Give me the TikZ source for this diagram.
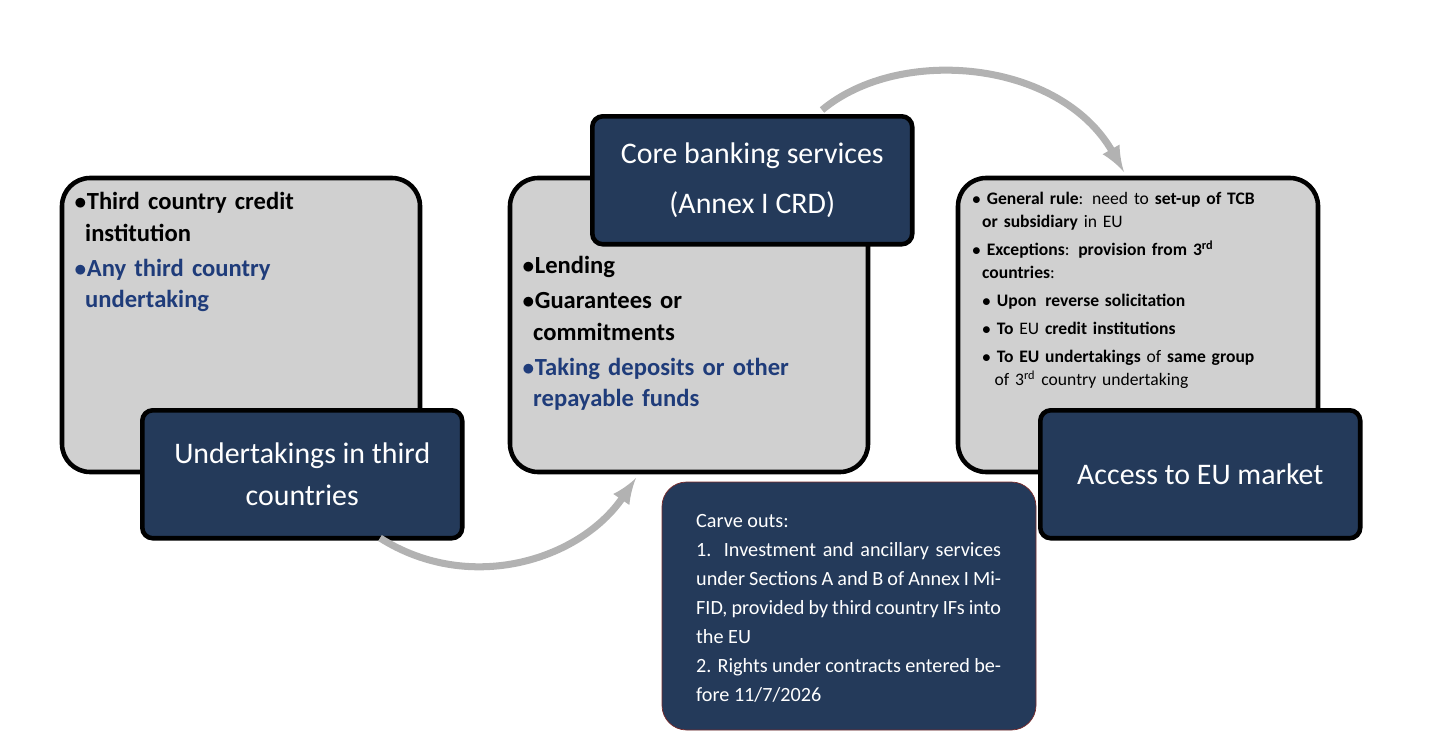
\documentclass[tikz,border=0pt]{standalone}
\usepackage{fontspec}
\setmainfont{Carlito}
\usetikzlibrary{positioning}
\definecolor{navy}{HTML}{243A5A}
\definecolor{boxgray}{HTML}{D0D0D0}
\definecolor{textblue}{HTML}{1F3C7A}
\definecolor{edgered}{HTML}{7A2A2A}
\begin{document}
\begin{tikzpicture}[x=0.02cm,y=-0.02cm,
	outer/.style={draw=black, line width=2.6pt, fill=boxgray, rounded corners=16pt},
	title/.style={draw=black, line width=2.6pt, fill=navy, rounded corners=6pt, text=white, align=center, font=\fontsize{17}{24}\selectfont},
	item/.style={anchor=north west, align=left, text width=6.4cm, font=\bfseries\fontsize{14}{18}\selectfont},
	flow/.style={draw=black!30, line width=4pt, -latex}
	]
	\useasboundingbox (0,0) rectangle (1429,750);

		% boxes
		\draw [outer] (62,178) rectangle (420,472);
		\draw [outer] (510,178) rectangle (868,472);
		\draw [outer] (958,178) rectangle (1318,472);

		\node (third) [title, minimum width=6.4cm, minimum height=2.56cm, anchor=north west] at (140,408) {Undertakings in third\\countries};
		\node (core) [title, minimum width=6.4cm, minimum height=2.56cm, anchor=north west] at (590,114) {Core banking services\\[4pt](Annex I CRD)};
		\node (access) [title, minimum width=6.4cm, minimum height=2.56cm, anchor=north west] at (1038,408) {Access to EU market};

		% contents
		\node (who) [item] at (68,186) {$\bullet$Third country credit\\\hspace*{0.22cm}institution\\[2pt]\textcolor{textblue}{$\bullet$Any third country\\\hspace*{0.22cm}undertaking}};
		\node (what) [item] at (516,250) {$\bullet$Lending\\[2pt]$\bullet$Guarantees or\\\hspace*{0.22cm}commitments\\[2pt]\textcolor{textblue}{$\bullet$Taking deposits or other\\\hspace*{0.22cm}repayable funds}};
		\node (rule) [anchor=north west, align=left, text width=6.8cm, font=\fontsize{10}{13}\selectfont] at (966,186) {%
			$\bullet$ \textbf{General rule}: need to \textbf{set-up of TCB}\\\hspace*{0.2cm}\textbf{or subsidiary} in EU\\[3pt]
			$\bullet$ \textbf{Exceptions}: \textbf{provision from 3\textsuperscript{rd}}\\\hspace*{0.2cm}\textbf{countries}:\\[3pt]
			\hspace*{0.2cm}$\bullet$ \textbf{Upon\, reverse solicitation}\\[3pt]
			\hspace*{0.2cm}$\bullet$ \textbf{To} EU \textbf{credit institutions}\\[3pt]
			\hspace*{0.2cm}$\bullet$ \textbf{To EU undertakings} of \textbf{same group}\\\hspace*{0.45cm}of 3\textsuperscript{rd} country undertaking};

		% carve outs
		\draw [draw=edgered, fill=navy, rounded corners=14pt] (662,482) rectangle (1036,730);
		\node (carve) [anchor=north west, align=justify, text width=6.1cm, text=white, font=\fontsize{11.5}{16.5}\selectfont] at (690,508) {%
			Carve outs:\\
			1. Investment and ancillary services under Sections A and B of Annex I MiFID, provided by third country IFs into the EU\\
			2. Rights under contracts entered before 11/7/2026};

	\draw [flow] (380,538) .. controls (470,595) and (580,560) .. (636,478);
	\draw [flow] (822,110) .. controls (900,45) and (1060,60) .. (1124,172);

\end{tikzpicture}
\end{document}
